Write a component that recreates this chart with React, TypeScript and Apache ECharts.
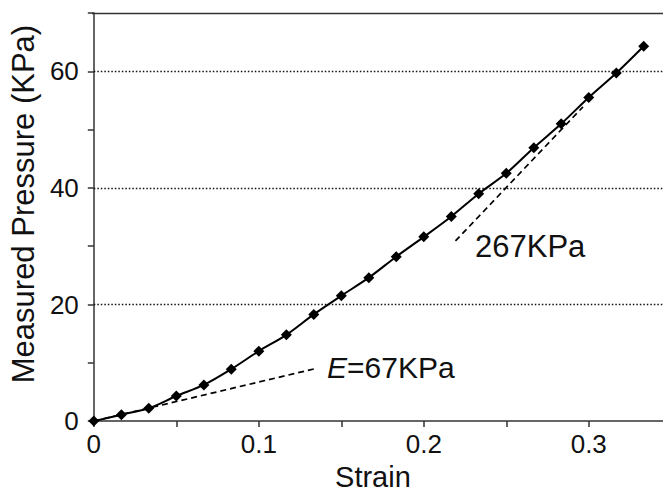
import React, { useEffect, useRef } from 'react';
import * as echarts from 'echarts';

const strain = [0, 0.0167, 0.0333, 0.05, 0.0667, 0.0833, 0.1, 0.1167, 0.1333, 0.15, 0.1667, 0.1833, 0.2, 0.2167, 0.2333, 0.25, 0.2667, 0.2833, 0.3, 0.3167, 0.3333];
const pressure = [0, 1.1, 2.2, 4.3, 6.2, 8.9, 12.0, 14.8, 18.3, 21.5, 24.6, 28.2, 31.6, 35.1, 39.0, 42.5, 46.9, 51.0, 55.5, 59.7, 64.3];
const tangent67 = [[0, 0], [0.135, 9.05]];
const tangent267 = [[0.2192, 30.9], [0.2965, 53.9]];
const xLabelValues = [0, 0.1, 0.2, 0.3];
const yLabelValues = [0, 20, 40, 60];
const gridValues = [20, 40, 60];
const label67 = 'E=67KPa';
const label267 = '267KPa';

const FONT = "'Liberation Sans', Arial, Helvetica, sans-serif";

export default function App() {
  const ref = useRef<HTMLDivElement>(null);
  useEffect(() => {
    if (!ref.current) return;
    const chart = echarts.init(ref.current, undefined, { renderer: 'svg' });
    const isIn = (arr: number[], v: number) => arr.some((a) => Math.abs(a - v) < 1e-6);
    chart.setOption({
      animation: false,
      backgroundColor: '#fff',
      grid: { left: 92, right: 0, top: 13, bottom: 67 },
      xAxis: {
        type: 'value',
        min: 0,
        max: 0.345,
        interval: 0.05,
        name: 'Strain',
        nameLocation: 'middle',
        nameGap: 37,
        nameTextStyle: { fontFamily: FONT, fontSize: 29, color: '#111', padding: [0, 11, 0, 0] },
        axisLine: { show: true, lineStyle: { color: '#333', width: 1.5 } },
        axisTick: { show: true, length: 6, lineStyle: { color: '#333', width: 1.5 } },
        axisLabel: {
          show: true,
          margin: 10,
          fontFamily: FONT,
          fontSize: 26,
          color: '#111',
          showMaxLabel: false,
          formatter: (v: number) => (isIn(xLabelValues, v) ? String(Number(v.toFixed(2))) : ''),
        },
        splitLine: { show: false },
      },
      yAxis: {
        type: 'value',
        min: 0,
        max: 70,
        interval: 10,
        name: 'Measured Pressure (KPa)',
        nameLocation: 'middle',
        nameGap: 49,
        nameTextStyle: { fontFamily: FONT, fontSize: 31, color: '#111', padding: [0, 0, 0, 26] },
        axisLine: { show: true, lineStyle: { color: '#333', width: 1.5 } },
        axisTick: { show: true, length: 6, lineStyle: { color: '#333', width: 1.5 } },
        axisLabel: {
          margin: 15,
          fontFamily: FONT,
          fontSize: 26,
          color: '#111',
          formatter: (v: number) => (isIn(yLabelValues, v) ? String(v) : ''),
        },
        splitLine: { show: false },
      },
      series: [
        {
          type: 'line',
          data: strain.map((s, i) => [s, pressure[i]]),
          smooth: 0.3,
          symbol: 'diamond',
          symbolSize: 11,
          itemStyle: { color: '#000' },
          lineStyle: { color: '#000', width: 2 },
          z: 5,
          markLine: {
            silent: true,
            symbol: 'none',
            label: { show: false },
            lineStyle: { color: '#111', type: [1.5, 2], width: 1.3 },
            data: gridValues.map((v) => ({ yAxis: v })),
            z: 1,
          },
        },
        {
          type: 'line',
          data: tangent67,
          symbol: 'none',
          lineStyle: { color: '#000', width: 1.7, type: [6, 4] },
          z: 3,
        },
        {
          type: 'line',
          data: tangent267,
          symbol: 'none',
          lineStyle: { color: '#000', width: 1.7, type: [6, 4] },
          z: 3,
        },
      ],
      graphic: [
        {
          type: 'line',
          shape: { x1: 92, y1: 13.5, x2: 663, y2: 13.5 },
          style: { stroke: '#333', lineWidth: 1.5 },
          silent: true,
        },
        {
          type: 'text',
          left: 327,
          top: 352,
          style: {
            text: '{i|E}' + label67.slice(1),
            fontFamily: FONT,
            fontSize: 30,
            fill: '#111',
            rich: { i: { fontStyle: 'italic', fontFamily: FONT, fontSize: 30, fill: '#111' } },
          },
        },
        {
          type: 'text',
          left: 475,
          top: 231,
          style: { text: label267, fontFamily: FONT, fontSize: 31, fill: '#111' },
        },
      ],
    });
    return () => chart.dispose();
  }, []);
  return <div ref={ref} style={{ width: 663, height: 496, position: 'absolute', left: 0, top: 0 }} />;
}
